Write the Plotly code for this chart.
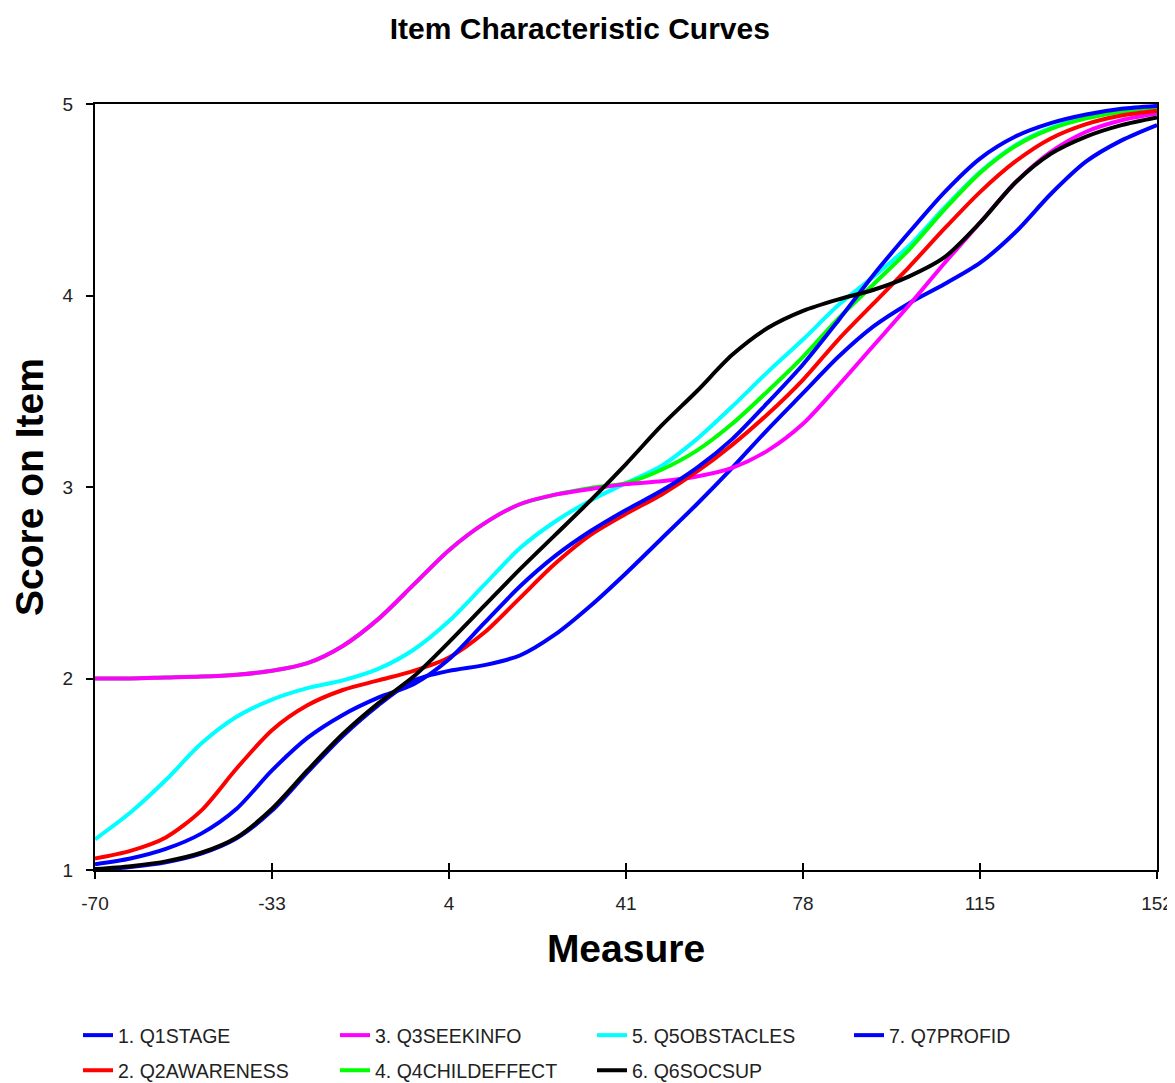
import plotly.graph_objects as go

# Measure grid (common x positions for every curve)
measure = [-70, -62.6, -55.2, -47.8, -40.4, -33, -25.6, -18.2, -10.8, -3.4,
           4, 11.4, 18.8, 26.2, 33.6, 41, 48.4, 55.8, 63.2, 70.6,
           78, 85.4, 92.8, 100.2, 107.6, 115, 122.4, 129.8, 137.2, 144.6, 152]

q1_stage = [1.03, 1.06, 1.11, 1.19, 1.32, 1.52, 1.69, 1.81, 1.90, 1.97,
            2.10, 2.29, 2.48, 2.64, 2.77, 2.88, 2.98, 3.10, 3.25, 3.44,
            3.64, 3.87, 4.11, 4.33, 4.54, 4.715, 4.83, 4.90, 4.945, 4.975, 4.99]

q2_awareness = [1.06, 1.10, 1.17, 1.31, 1.53, 1.73, 1.86, 1.94, 1.99, 2.04,
                2.11, 2.24, 2.42, 2.60, 2.75, 2.86, 2.96, 3.08, 3.22, 3.38,
                3.56, 3.77, 3.96, 4.15, 4.35, 4.54, 4.70, 4.82, 4.895, 4.94, 4.965]

q3_seekinfo = [2.00, 2.00, 2.005, 2.01, 2.02, 2.04, 2.08, 2.17, 2.31, 2.49,
               2.67, 2.81, 2.91, 2.96, 2.99, 3.015, 3.03, 3.055, 3.10, 3.19,
               3.33, 3.53, 3.74, 3.95, 4.17, 4.38, 4.59, 4.75, 4.855, 4.915, 4.95]

q4_childeffect = [2.00, 2.00, 2.005, 2.01, 2.02, 2.04, 2.08, 2.17, 2.31, 2.49,
                  2.67, 2.81, 2.91, 2.96, 2.995, 3.02, 3.09, 3.19, 3.33, 3.50,
                  3.68, 3.88, 4.06, 4.24, 4.45, 4.64, 4.78, 4.87, 4.925, 4.96, 4.985]

q5_obstacles = [1.16, 1.30, 1.47, 1.66, 1.80, 1.89, 1.95, 1.99, 2.05, 2.15,
                2.30, 2.49, 2.68, 2.82, 2.93, 3.02, 3.11, 3.25, 3.42, 3.60,
                3.77, 3.95, 4.10, 4.26, 4.46, 4.645, 4.785, 4.875, 4.93, 4.962, 4.985]

q6_socsup = [1.005, 1.02, 1.045, 1.09, 1.17, 1.32, 1.52, 1.71, 1.87, 2.01,
             2.19, 2.38, 2.57, 2.75, 2.93, 3.12, 3.32, 3.50, 3.69, 3.83,
             3.92, 3.98, 4.03, 4.10, 4.20, 4.38, 4.59, 4.74, 4.83, 4.89, 4.93]

q7_profid = [1.0, 1.015, 1.04, 1.085, 1.165, 1.31, 1.51, 1.70, 1.86, 1.99,
             2.04, 2.07, 2.12, 2.23, 2.38, 2.55, 2.73, 2.91, 3.10, 3.30,
             3.49, 3.68, 3.84, 3.96, 4.06, 4.17, 4.33, 4.53, 4.70, 4.81, 4.89]

x_ticks = [-70, -33, 4, 41, 78, 115, 152]
y_ticks = [1, 2, 3, 4, 5]

series = [
    # (name, values, colour, legend, rank) -- listed in drawing order
    ("7. Q7PROFID", q7_profid, "#0000FF", "legend", 4),
    ("5. Q5OBSTACLES", q5_obstacles, "#00FFFF", "legend", 3),
    ("4. Q4CHILDEFFECT", q4_childeffect, "#00FF00", "legend2", 2),
    ("3. Q3SEEKINFO", q3_seekinfo, "#FF00FF", "legend", 2),
    ("2. Q2AWARENESS", q2_awareness, "#FF0000", "legend2", 1),
    ("1. Q1STAGE", q1_stage, "#0000FF", "legend", 1),
    ("6. Q6SOCSUP", q6_socsup, "#000000", "legend2", 3),
]

fig = go.Figure()
for name, vals, col, leg, rank in series:
    fig.add_trace(go.Scatter(
        x=measure, y=vals, mode="lines", name=name,
        line=dict(color=col, width=4, shape="spline", smoothing=0.8),
        legend=leg, legendrank=rank,
    ))

# invisible helper trace so the overlay axis (inner tick marks) is drawn
fig.add_trace(go.Scatter(x=[measure[0]], y=[y_ticks[0]], xaxis="x2", mode="markers",
                         marker=dict(opacity=0), showlegend=False, hoverinfo="skip"))

font_main = "Liberation Sans, Arial, sans-serif"

# the page body adds an 8px offset, so the figure is 8px smaller than the window
fig.update_layout(
    width=1167, height=1075,
    paper_bgcolor="white", plot_bgcolor="white",
    margin=dict(l=87, r=18, t=96, b=213, autoexpand=False),
    font=dict(family=font_main, color="#222222"),
    title=dict(text="<b>Item Characteristic Curves</b>", x=0.490, xanchor="center",
               y=1 - 20 / 1075, yanchor="middle",
               font=dict(size=30, color="#000000", family=font_main)),
    xaxis=dict(range=[-70, 152], tickvals=x_ticks, ticktext=[str(v) for v in x_ticks],
               showgrid=False, zeroline=False, showline=True, linecolor="#000000",
               linewidth=2, mirror=True, ticks="outside", ticklen=7, tickwidth=2,
               tickcolor="#000000", tickfont=dict(size=19, color="#222222"),
               ticklabelstandoff=8, automargin=False,
               title=dict(text="<b>Measure</b>", font=dict(size=39, color="#000000"),
                          standoff=22)),
    xaxis2=dict(range=[-70, 152], overlaying="x", side="bottom", tickvals=x_ticks,
                showticklabels=False, ticks="inside", ticklen=7, tickwidth=2,
                tickcolor="#000000", showgrid=False, zeroline=False, showline=False,
                automargin=False),
    yaxis=dict(range=[1, 5], tickvals=y_ticks, showgrid=False, zeroline=False,
               showline=True, linecolor="#000000", linewidth=2, mirror=True,
               ticks="outside", ticklen=7, tickwidth=2, tickcolor="#000000",
               tickfont=dict(size=19, color="#222222"), ticklabelstandoff=9,
               automargin=False,
               title=dict(text="<b>Score on Item</b>", font=dict(size=39, color="#000000"),
                          standoff=16)),
    legend=dict(orientation="h", x=-0.016, xanchor="left", y=-0.216, yanchor="middle",
                entrywidth=212, font=dict(size=19.5, color="#222222"),
                bgcolor="rgba(0,0,0,0)", itemwidth=30, traceorder="normal"),
    legend2=dict(orientation="h", x=-0.016, xanchor="left", y=-0.262, yanchor="middle",
                 entrywidth=212, font=dict(size=19.5, color="#222222"),
                 bgcolor="rgba(0,0,0,0)", itemwidth=30, traceorder="normal"),
)

fig.write_html("out.html")
